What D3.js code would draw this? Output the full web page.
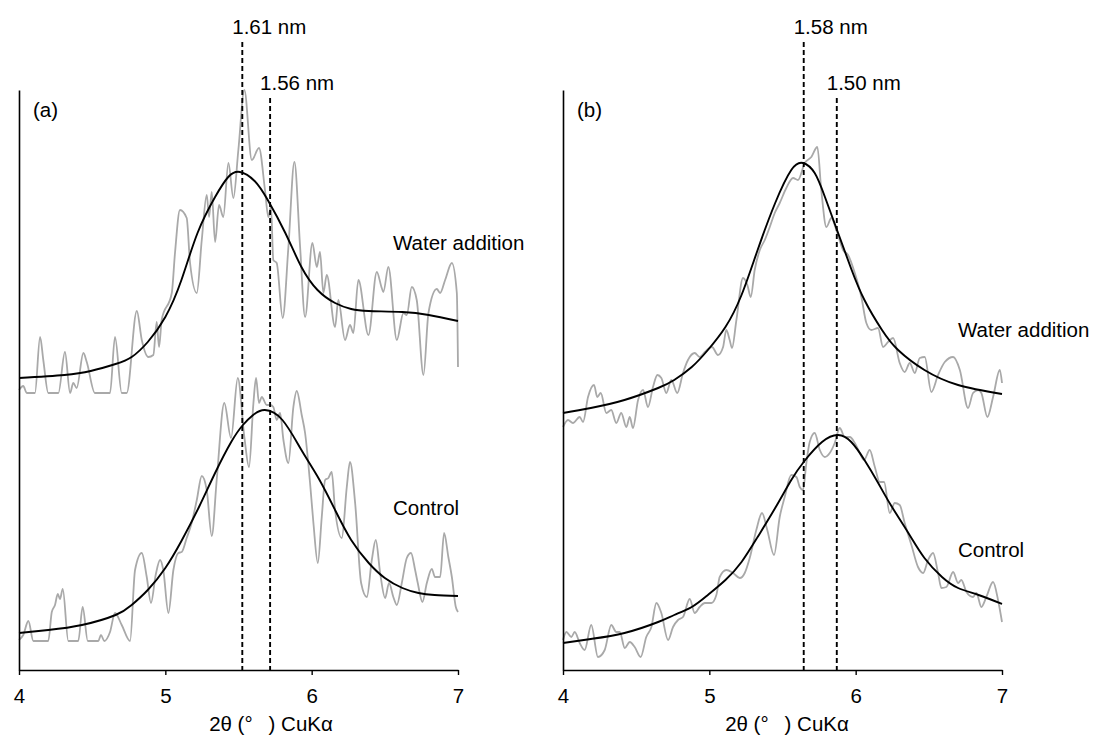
<!DOCTYPE html>
<html>
<head>
<meta charset="utf-8">
<script src="https://cdn.jsdelivr.net/npm/d3@7"></script>
<style>
  body { margin: 0; background: #fff; }
  text { font-family: "Liberation Sans", Arial, sans-serif; font-size: 20.5px; fill: #000; }
</style>
</head>
<body>
<div id="chart"></div>
<script>
// XRD patterns, 2θ vs intensity (a.u.), two panels
const svgWidth = 1099
const svgHeight = 743

const xTicks = [4, 5, 6, 7]
const xDomain = [4, 7]
const yDomain = [0, 580]

// panel (a) measured (grey) and fitted (black) curves, [2θ, intensity]
const rawWaterA = [[4.000,280],[4.029,284],[4.053,277],[4.109,277],[4.144,333],[4.166,310],[4.200,277],[4.269,277],[4.314,318],[4.349,277],[4.371,287],[4.394,282],[4.440,317],[4.463,308],[4.519,277],[4.622,277],[4.656,333],[4.702,277],[4.736,277],[4.805,359],[4.839,330],[4.884,313],[4.918,315],[4.941,348],[4.957,323],[4.975,350],[5.044,377],[5.066,417],[5.100,460],[5.146,452],[5.169,407],[5.215,377],[5.249,430],[5.283,475],[5.299,453],[5.317,478],[5.340,428],[5.367,465],[5.396,453],[5.431,507],[5.465,472],[5.499,520],[5.540,580],[5.591,510],[5.640,522],[5.681,480],[5.704,453],[5.722,463],[5.738,410],[5.761,407],[5.802,352],[5.841,423],[5.882,508],[5.921,423],[5.955,353],[6.005,427],[6.035,403],[6.057,418],[6.080,377],[6.103,395],[6.160,343],[6.182,370],[6.228,330],[6.262,345],[6.285,337],[6.319,390],[6.388,335],[6.445,398],[6.479,382],[6.490,378],[6.524,403],[6.582,330],[6.627,357],[6.650,355],[6.684,383],[6.718,370],[6.764,295],[6.798,357],[6.855,381],[6.878,377],[6.912,390],[6.958,407],[6.992,377],[7.000,303]]
const rawControlA = [[4.000,30],[4.029,35],[4.064,49],[4.098,29],[4.200,29],[4.224,58],[4.246,65],[4.265,76],[4.280,71],[4.299,81],[4.337,29],[4.405,29],[4.435,63],[4.470,29],[4.542,29],[4.560,35],[4.583,29],[4.622,38],[4.656,57],[4.702,45],[4.759,29],[4.793,100],[4.839,117],[4.873,93],[4.902,67],[4.934,95],[4.964,110],[4.986,100],[5.021,57],[5.055,100],[5.089,117],[5.112,118],[5.146,132],[5.180,147],[5.215,170],[5.249,194],[5.283,180],[5.317,134],[5.351,190],[5.403,267],[5.449,232],[5.495,292],[5.540,233],[5.572,203],[5.602,267],[5.620,292],[5.640,267],[5.659,273],[5.693,265],[5.716,265],[5.738,263],[5.761,250],[5.784,257],[5.807,230],[5.841,207],[5.875,263],[5.898,279],[5.932,255],[5.955,237],[5.989,187],[6.012,147],[6.042,107],[6.069,153],[6.092,190],[6.114,192],[6.137,198],[6.160,160],[6.206,132],[6.240,183],[6.262,208],[6.297,167],[6.338,87],[6.377,73],[6.411,110],[6.438,130],[6.468,97],[6.502,72],[6.529,87],[6.558,73],[6.582,65],[6.616,87],[6.650,112],[6.679,117],[6.707,100],[6.725,87],[6.757,68],[6.787,87],[6.821,101],[6.843,93],[6.878,93],[6.905,137],[6.934,113],[6.958,93],[6.985,63],[7.000,58]]
const fitWaterA = [[4.00,292],[4.31,295],[4.49,299],[4.66,306],[4.77,313],[4.88,328],[5.00,353],[5.11,390],[5.22,437],[5.34,473],[5.43,493],[5.51,498],[5.61,489],[5.70,470],[5.82,437],[5.93,403],[6.04,380],[6.16,367],[6.27,361],[6.39,359],[6.62,358],[6.80,355],[7.00,349]]
const fitControlA = [[4.00,37],[4.20,40],[4.43,45],[4.66,55],[4.77,65],[4.88,80],[5.00,102],[5.11,129],[5.23,163],[5.34,197],[5.45,228],[5.53,245],[5.60,255],[5.68,260],[5.80,250],[5.93,220],[6.05,191],[6.16,160],[6.27,130],[6.39,107],[6.50,92],[6.62,82],[6.73,77],[6.84,75],[7.00,74]]
const peaksA = [5.526, 5.716]
const peakLabelsA = ["1.61 nm", "1.56 nm"]

// panel (b)
const rawWaterB = [[4.000,243],[4.034,250],[4.068,247],[4.114,253],[4.137,248],[4.171,273],[4.212,285],[4.234,273],[4.258,277],[4.296,257],[4.330,260],[4.364,247],[4.398,257],[4.433,243],[4.456,253],[4.478,242],[4.513,270],[4.547,280],[4.581,263],[4.615,283],[4.645,295],[4.672,292],[4.706,277],[4.740,290],[4.781,277],[4.820,297],[4.854,310],[4.900,317],[4.934,313],[4.969,318],[5.018,323],[5.059,315],[5.094,323],[5.116,340],[5.139,330],[5.155,322],[5.185,350],[5.230,392],[5.260,385],[5.283,373],[5.310,400],[5.345,420],[5.379,430],[5.413,443],[5.447,457],[5.481,467],[5.526,482],[5.572,492],[5.606,490],[5.652,507],[5.697,513],[5.738,523],[5.765,480],[5.800,443],[5.834,452],[5.868,440],[5.914,420],[5.948,415],[5.994,397],[6.039,373],[6.073,347],[6.107,340],[6.153,342],[6.187,323],[6.221,328],[6.256,332],[6.301,307],[6.335,298],[6.370,307],[6.404,297],[6.438,312],[6.472,313],[6.517,278],[6.563,295],[6.609,308],[6.666,313],[6.712,300],[6.768,262],[6.802,277],[6.837,280],[6.859,277],[6.900,253],[6.939,273],[6.985,300],[7.000,287]]
const rawControlB = [[4.000,30],[4.023,38],[4.057,33],[4.080,38],[4.114,27],[4.148,20],[4.193,45],[4.239,13],[4.285,20],[4.330,45],[4.364,38],[4.388,38],[4.422,22],[4.456,28],[4.490,23],[4.531,13],[4.569,33],[4.604,43],[4.638,67],[4.672,57],[4.718,30],[4.752,43],[4.786,50],[4.820,53],[4.866,71],[4.900,57],[4.934,63],[4.969,67],[5.014,67],[5.048,75],[5.071,93],[5.116,100],[5.162,97],[5.208,92],[5.242,97],[5.276,112],[5.321,140],[5.360,157],[5.396,140],[5.442,115],[5.481,153],[5.515,173],[5.560,195],[5.595,193],[5.618,183],[5.640,180],[5.663,207],[5.686,228],[5.720,237],[5.755,220],[5.789,213],[5.823,217],[5.857,227],[5.891,242],[5.926,233],[5.960,233],[5.994,227],[6.028,217],[6.057,210],[6.096,220],[6.131,203],[6.165,188],[6.194,188],[6.233,157],[6.267,167],[6.301,165],[6.335,147],[6.381,125],[6.426,103],[6.461,97],[6.495,110],[6.529,117],[6.563,97],[6.586,82],[6.620,83],[6.666,98],[6.700,87],[6.722,90],[6.757,78],[6.802,73],[6.825,77],[6.859,63],[6.893,73],[6.939,88],[6.973,70],[7.000,48]]
const fitWaterB = [[4.00,257],[4.19,262],[4.42,270],[4.65,282],[4.76,290],[4.88,303],[4.99,320],[5.11,343],[5.22,375],[5.33,420],[5.45,467],[5.56,500],[5.64,507],[5.72,497],[5.79,473],[5.88,437],[5.97,401],[6.06,370],[6.18,340],[6.29,320],[6.47,300],[6.70,285],[7.00,276]]
const fitControlB = [[4.00,27],[4.19,31],[4.42,37],[4.65,48],[4.76,55],[4.88,63],[4.99,75],[5.11,90],[5.22,108],[5.33,133],[5.45,162],[5.56,190],[5.65,209],[5.77,228],[5.88,235],[5.97,228],[6.06,210],[6.15,188],[6.24,165],[6.36,137],[6.47,112],[6.59,93],[6.70,82],[6.84,75],[7.00,66]]
const peaksB = [5.645, 5.871]
const peakLabelsB = ["1.58 nm", "1.50 nm"]

const seriesNames = ["Water addition", "Control"]
const axisTitle = "2θ (°\u2002 ) CuKα"

// layout of the two panels (pixels)
let panels = [
  { tag: "(a)", left: 19, right: 458, raw: [rawWaterA, rawControlA], fit: [fitWaterA, fitControlA],
    peaks: peaksA, peakLabels: peakLabelsA, nameX: 393, nameY: [250, 515], titleX: 271 },
  { tag: "(b)", left: 563, right: 1002, raw: [rawWaterB, rawControlB], fit: [fitWaterB, fitControlB],
    peaks: peaksB, peakLabels: peakLabelsB, nameX: 958, nameY: [337, 557], titleX: 787 }
]
const plotTop = 90
const plotBottom = 670
const peakTops = [42, 98]
const peakLabelY = [34, 90]

let svg = d3
  .select("#chart")
  .append("svg")
  .attr("width", svgWidth)
  .attr("height", svgHeight)

let yScale = d3.scaleLinear().domain(yDomain).range([plotBottom, plotTop])

panels.forEach(p => {
  let xScale = d3.scaleLinear().domain(xDomain).range([p.left, p.right])
  let g = svg.append("g")

  let line = d3.line()
    .x(d => xScale(d[0]))
    .y(d => yScale(d[1]))

  // measured patterns
  p.raw.forEach(series => {
    g.append("path")
      .datum(series)
      .attr("fill", "none")
      .attr("stroke", "#a9a9a9")
      .attr("stroke-width", 1.8)
      .attr("stroke-linejoin", "round")
      .attr("d", line.curve(d3.curveMonotoneX))
  })

  // fitted peaks
  p.fit.forEach(series => {
    g.append("path")
      .datum(series)
      .attr("fill", "none")
      .attr("stroke", "#000")
      .attr("stroke-width", 1.9)
      .attr("d", line.curve(d3.curveNatural))
  })

  // peak position markers
  p.peaks.forEach((pk, i) => {
    g.append("line")
      .attr("x1", xScale(pk))
      .attr("x2", xScale(pk))
      .attr("y1", peakTops[i])
      .attr("y2", yScale(0))
      .attr("stroke", "#000")
      .attr("stroke-width", 1.9)
      .attr("stroke-dasharray", "5,3")
    g.append("text")
      .attr("x", xScale(pk) + 27)
      .attr("y", peakLabelY[i])
      .attr("text-anchor", "middle")
      .text(p.peakLabels[i])
  })

  // axes
  let bottomAxis = d3.axisBottom(xScale)
    .tickValues(xTicks)
    .tickFormat(d3.format("d"))
    .tickSize(5)
    .tickSizeOuter(0)
    .tickPadding(13)
  let xAxis = g.append("g")
    .attr("transform", `translate(0, ${plotBottom})`)
    .call(bottomAxis)
  xAxis.select(".domain").attr("stroke-width", 1.6)
  xAxis.selectAll(".tick line").attr("stroke-width", 1.4)
  xAxis.selectAll("text")
    .attr("font-family", null)
    .attr("font-size", null)
    .style("font-size", "20.5px")

  let leftAxis = d3.axisLeft(yScale).tickValues([]).tickSizeOuter(0)
  g.append("g")
    .attr("transform", `translate(${p.left}, 0)`)
    .call(leftAxis)
    .select(".domain")
    .attr("stroke-width", 1.6)

  // labels
  g.append("text")
    .attr("x", p.left + 14)
    .attr("y", 117)
    .text(p.tag)

  seriesNames.forEach((name, i) => {
    g.append("text")
      .attr("x", p.nameX)
      .attr("y", p.nameY[i])
      .text(name)
  })

  g.append("text")
    .attr("x", p.titleX)
    .attr("y", 731)
    .attr("text-anchor", "middle")
    .style("white-space", "pre")
    .text(axisTitle)
})
</script>
</body>
</html>
